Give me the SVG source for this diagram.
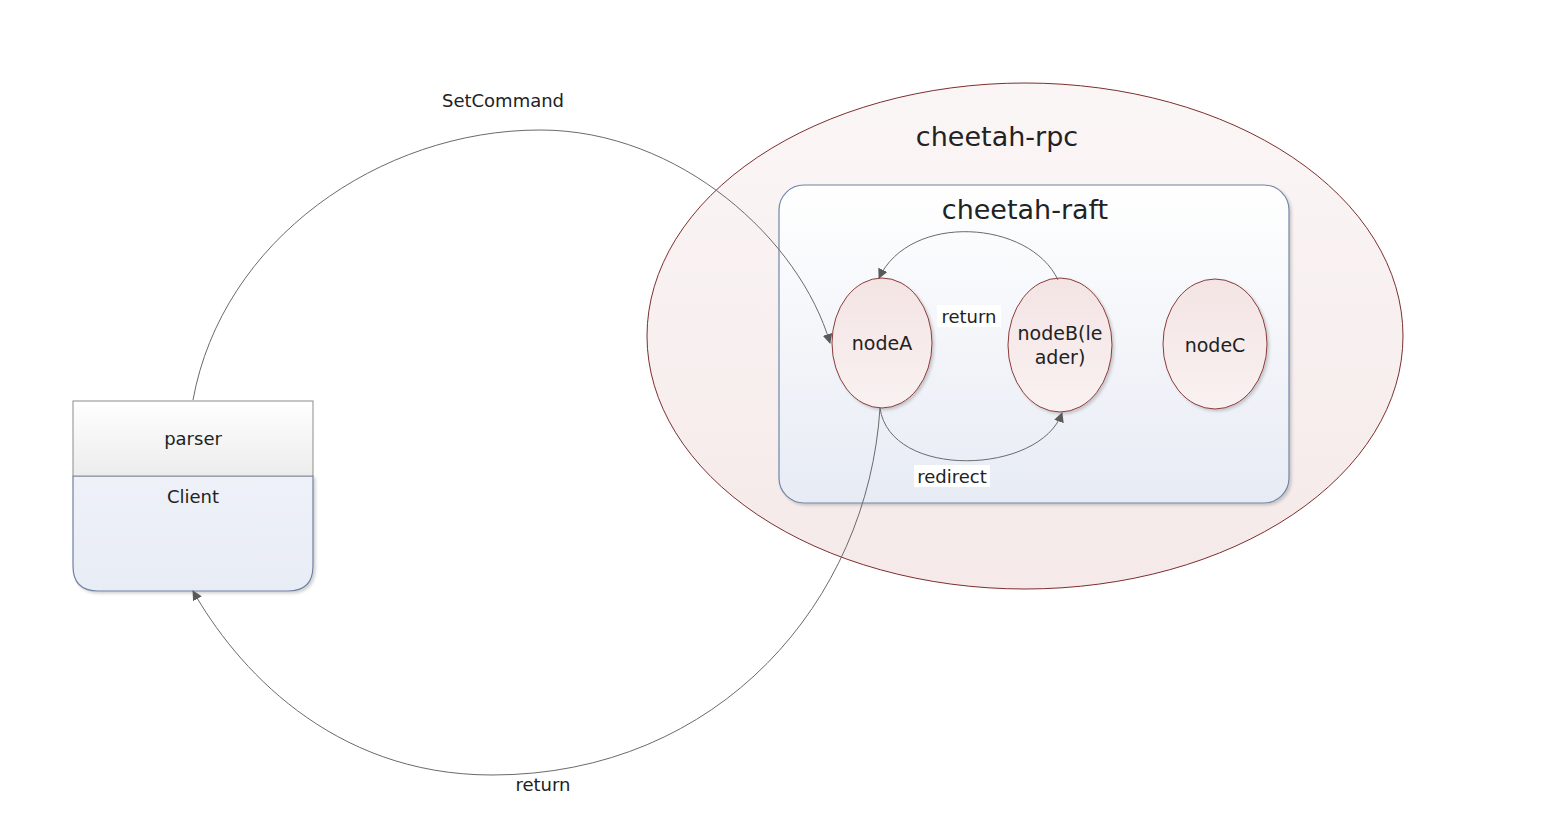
<svg xmlns="http://www.w3.org/2000/svg" width="1568" height="820" viewBox="0 0 1568 820">
<defs>
<linearGradient id="gRpc" x1="0" y1="0" x2="0" y2="1"><stop offset="0" stop-color="#fbf6f6"/><stop offset="1" stop-color="#f5e9e9"/></linearGradient>
<linearGradient id="gRaft" x1="0" y1="0" x2="0" y2="1"><stop offset="0" stop-color="#ffffff"/><stop offset="1" stop-color="#e7ebf4"/></linearGradient>
<linearGradient id="gNode" x1="0" y1="0" x2="0" y2="1"><stop offset="0" stop-color="#f4e4e4"/><stop offset="1" stop-color="#f9f1f1"/></linearGradient>
<linearGradient id="gHead" x1="0" y1="0" x2="0" y2="1"><stop offset="0" stop-color="#ffffff"/><stop offset="1" stop-color="#ececec"/></linearGradient>
<linearGradient id="gBody" x1="0" y1="0" x2="0" y2="1"><stop offset="0" stop-color="#eef1f8"/><stop offset="1" stop-color="#e8ecf5"/></linearGradient>
<filter id="sh" x="-10%" y="-10%" width="130%" height="130%"><feDropShadow dx="2" dy="2" stdDeviation="1.5" flood-color="#000" flood-opacity="0.18"/></filter>
<marker id="arr" viewBox="0 0 10 10" refX="9" refY="5" markerWidth="10" markerHeight="10" markerUnits="userSpaceOnUse" orient="auto"><path d="M0,0 L10,5 L0,10 z" fill="#5a5a5a"/></marker>
<style>
text{font-family:"DejaVu Sans","Liberation Sans",sans-serif;fill:#222;text-anchor:middle}
.lbl{font-size:18px}
.node{fill:url(#gNode);stroke:#8a3b3b;stroke-width:1;filter:url(#sh)}
.nt{font-size:19px}
.conn{fill:none;stroke:#6a6a6a;stroke-width:1;marker-end:url(#arr)}
</style>
</defs>

<g id="cheetah-rpc">
<ellipse cx="1025" cy="336" rx="378" ry="253" fill="url(#gRpc)" stroke="#7d2e2e" stroke-width="1"/>
<text x="997" y="146" style="font-size:27px">cheetah-rpc</text>
</g>

<g id="cheetah-raft">
<rect x="779" y="185" width="510" height="318" rx="25" ry="25" fill="url(#gRaft)" stroke="#6f86a8" stroke-width="1.2" filter="url(#sh)"/>
<text x="1025" y="219" style="font-size:27px">cheetah-raft</text>
</g>

<g id="client">
<path d="M73,476 L313,476 L313,566 Q313,591 288,591 L98,591 Q73,591 73,566 Z" fill="url(#gBody)" stroke="#6f80a3" stroke-width="1.2" filter="url(#sh)"/>
<rect x="73" y="401" width="240" height="75" fill="url(#gHead)" stroke="#8c8c8c" stroke-width="1"/>
<text x="193" y="445" class="lbl">parser</text>
<text x="193" y="503" class="lbl">Client</text>
</g>

<g id="nodeA">
<ellipse cx="882" cy="343" rx="50" ry="65" class="node"/>
<text x="882" y="350" class="nt">nodeA</text>
</g>
<g id="nodeB">
<ellipse cx="1060" cy="345" rx="52" ry="67" class="node"/>
<text x="1060" y="340" class="nt">nodeB(le</text>
<text x="1060" y="364" class="nt">ader)</text>
</g>
<g id="nodeC">
<ellipse cx="1215" cy="344" rx="52" ry="65" class="node"/>
<text x="1215" y="352" class="nt">nodeC</text>
</g>

<g id="connectors">
<path class="conn" d="M193,400 C222,240 380,130 540,130 C680,130 800,240 830,343"/>
<path class="conn" d="M880,408 C868,600 720,775 492,775 C330,775 235,665 193,591"/>
<path class="conn" d="M1058,280 C1030,220 910,212 879,278"/>
<path class="conn" d="M880,408 C890,480 1040,475 1062,413"/>
<text x="503" y="107" class="lbl">SetCommand</text>
<rect x="937" y="305" width="64" height="22" fill="#ffffff"/>
<text x="969" y="323" class="lbl">return</text>
<rect x="914" y="465" width="76" height="22" fill="#ffffff"/>
<text x="952" y="483" class="lbl">redirect</text>
<text x="543" y="791" class="lbl">return</text>
</g>
</svg>
